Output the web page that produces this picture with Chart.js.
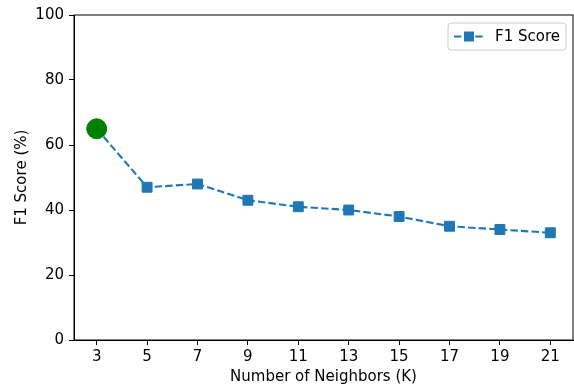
<!DOCTYPE html>
<html>
<head>
<meta charset="utf-8">
<script src="https://cdn.jsdelivr.net/npm/chart.js@4.4.0/dist/chart.umd.min.js"></script>
<style>
  html, body { margin: 0; padding: 0; background: #fff; }
  #wrap { width: 574px; height: 386px; }
</style>
</head>
<body>
<div id="wrap"><canvas id="myChart" width="574" height="386"></canvas></div>
<script>
// 데이터
const kValues = [3, 5, 7, 9, 11, 13, 15, 17, 19, 21];
const f1Scores = [65, 47, 48, 43, 41, 40, 38, 35, 34, 33];
const bestK = [3];
const bestScore = [65];
const yTicks = [0, 20, 40, 60, 80, 100];

const blue = '#1f77b4';
const green = '#008000';
const tickFont = { family: 'DejaVu Sans', size: 15 };

// 테두리(위/오른쪽 포함) + 범례 박스
const framePlugin = {
  id: 'frame',
  afterDraw(chart) {
    const { ctx, chartArea: a } = chart;
    ctx.save();
    ctx.strokeStyle = '#000';
    ctx.lineWidth = 1;
    ctx.strokeRect(a.left, a.top, a.right - a.left, a.bottom - a.top);

    // legend
    const bx = a.right - 125, by = a.top + 8, bw = 118, bh = 27;
    ctx.beginPath();
    ctx.roundRect(bx, by, bw, bh, 3);
    ctx.fillStyle = 'rgba(255,255,255,0.8)';
    ctx.fill();
    ctx.strokeStyle = '#cccccc';
    ctx.stroke();
    const cy = by + bh / 2;
    ctx.beginPath();
    ctx.setLineDash([7.4, 3.2]);
    ctx.strokeStyle = blue;
    ctx.lineWidth = 2;
    ctx.moveTo(bx + 6, cy);
    ctx.lineTo(bx + 36, cy);
    ctx.stroke();
    ctx.setLineDash([]);
    ctx.fillStyle = blue;
    ctx.fillRect(bx + 16, cy - 5, 10, 10);
    ctx.fillStyle = '#000';
    ctx.font = '15px "DejaVu Sans"';
    ctx.textBaseline = 'middle';
    ctx.fillText(chart.data.datasets[1].label, bx + 47, cy + 1);
    ctx.restore();
  }
};

const ctx = document.getElementById('myChart');

new Chart(ctx, {
  type: 'line',
  data: {
    datasets: [
      {
        label: 'Best K',
        data: bestK.map((k, i) => ({ x: k, y: bestScore[i] })),
        showLine: false,
        pointStyle: 'circle',
        pointRadius: 10,
        pointBackgroundColor: green,
        pointBorderColor: green,
        order: 0
      },
      {
        label: 'F1 Score',
        data: kValues.map((k, i) => ({ x: k, y: f1Scores[i] })),
        borderColor: blue,
        borderWidth: 2.1,
        borderDash: [7.4, 3.2],
        pointStyle: 'rect',
        pointRadius: 7,
        pointBackgroundColor: blue,
        pointBorderColor: blue,
        pointBorderWidth: 1,
        tension: 0,
        order: 1
      }
    ]
  },
  options: {
    responsive: false,
    animation: false,
    layout: { autoPadding: false, padding: { top: 15, right: 1, left: 0, bottom: 0 } },
    plugins: {
      legend: { display: false },
      tooltip: { enabled: false }
    },
    scales: {
      x: {
        type: 'linear',
        min: 2.1,
        max: 21.9,
        afterBuildTicks: (s) => { s.ticks = kValues.map(v => ({ value: v })) },
        afterFit: (s) => { s.height = 46; s.paddingLeft = 0; s.paddingRight = 0 },
        grid: { drawOnChartArea: false, drawTicks: true, tickLength: 5, color: '#000' },
        border: { display: true, color: '#000', width: 1 },
        ticks: { font: tickFont, color: '#000', padding: 3, maxRotation: 0 },
        title: { display: true, text: 'Number of Neighbors (K)', font: tickFont, color: '#000', padding: { top: 0, bottom: 0 } }
      },
      y: {
        min: 0,
        max: 100,
        afterBuildTicks: (s) => { s.ticks = yTicks.map(v => ({ value: v })) },
        afterFit: (s) => { s.width = 74; s.paddingTop = 0; s.paddingBottom = 0 },
        grid: { drawOnChartArea: false, drawTicks: true, tickLength: 5, color: '#000' },
        border: { display: true, color: '#000', width: 1 },
        ticks: { font: tickFont, color: '#000', padding: 5 },
        title: { display: true, text: 'F1 Score (%)', font: tickFont, color: '#000', padding: { top: 13, bottom: 0 } }
      }
    }
  },
  plugins: [framePlugin]
});
</script>
</body>
</html>
